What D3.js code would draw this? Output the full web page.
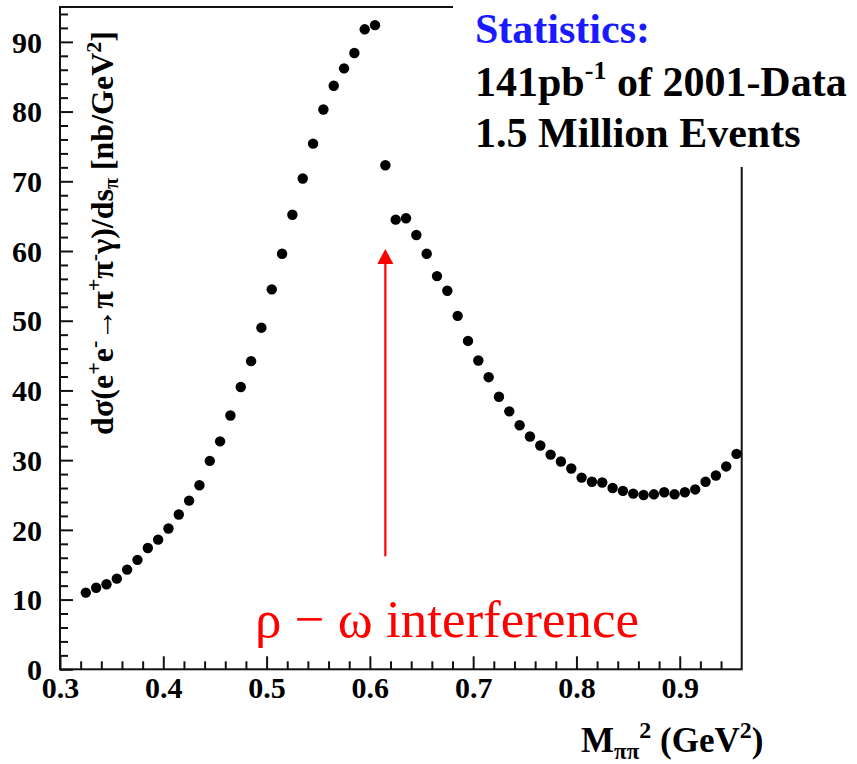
<!DOCTYPE html>
<html>
<head>
<meta charset="utf-8">
<script src="https://cdn.jsdelivr.net/npm/d3@7"></script>
<style>
  html, body { margin: 0; padding: 0; background: #fff; }
  svg { display: block; }
  svg text { font-family: "Liberation Serif", "Times New Roman", Tinos, "DejaVu Serif", serif; }
</style>
</head>
<body>
<svg id="chart" width="857" height="764"></svg>
<script>
// Bin centres of M_pipi^2 (GeV^2), 0.01 wide bins
const massSq = [
  0.325, 0.335, 0.345, 0.355, 0.365, 0.375, 0.385, 0.395, 0.405, 0.415,
  0.425, 0.435, 0.445, 0.455, 0.465, 0.475, 0.485, 0.495, 0.505, 0.515,
  0.525, 0.535, 0.545, 0.555, 0.565, 0.575, 0.585, 0.595, 0.605, 0.615,
  0.625, 0.635, 0.645, 0.655, 0.665, 0.675, 0.685, 0.695, 0.705, 0.715,
  0.725, 0.735, 0.745, 0.755, 0.765, 0.775, 0.785, 0.795, 0.805, 0.815,
  0.825, 0.835, 0.845, 0.855, 0.865, 0.875, 0.885, 0.895, 0.905, 0.915,
  0.925, 0.935, 0.945, 0.955
];
// dsigma/ds_pi in nb/GeV^2
const crossSection = [
  11.0, 11.7, 12.2, 13.0, 14.3, 15.7, 17.4, 18.6, 20.2, 22.2,
  24.2, 26.4, 29.9, 32.7, 36.4, 40.5, 44.2, 49.0, 54.5, 59.6,
  65.2, 70.4, 75.4, 80.3, 83.7, 86.2, 88.4, 91.8, 92.4, 72.3,
  64.5, 64.7, 62.3, 59.6, 56.4, 54.3, 50.7, 47.1, 44.3, 41.9,
  39.1, 37.0, 35.0, 33.4, 32.1, 30.8, 29.8, 28.8, 27.5, 26.9,
  26.8, 26.0, 25.6, 25.2, 25.0, 25.1, 25.4, 25.1, 25.4, 25.8,
  26.9, 27.8, 29.1, 30.9
];
const xMajorTicks = [0.3, 0.4, 0.5, 0.6, 0.7, 0.8, 0.9];
const xTickLabels = ["0.3", "0.4", "0.5", "0.6", "0.7", "0.8", "0.9"];
const yMajorTicks = [0, 10, 20, 30, 40, 50, 60, 70, 80, 90];
const yTickLabels = ["0", "10", "20", "30", "40", "50", "60", "70", "80", "90"];
const statsLines = ["Statistics:", "141pb", "1.5 Million Events"];
const annotationText = "\u03C1 \u2212 \u03C9 interference";
// arrow pointing at the interference dip: x position and y extent (data units)
const arrowX = 0.615;
const arrowFrom = 16.2;
const arrowTo = 60.3;

const svg = d3.select("#chart");
const W = 857, H = 764;
const plot = { left: 60, right: 741.7, top: 7, bottom: 669.3 };

const x = d3.scaleLinear().domain([0.3, 0.96]).range([plot.left, plot.right]);
const y = d3.scaleLinear().domain([0, 95]).range([plot.bottom, plot.top]);

svg.append("rect").attr("width", W).attr("height", H).attr("fill", "#fff");

// minor ticks
const xMinor = d3.range(0.32, 0.96, 0.02).filter(v => Math.abs(v * 10 - Math.round(v * 10)) > 1e-6);
const yMinor = d3.range(2, 95, 2).filter(v => v % 10 !== 0);

const axisStyle = g => {
  g.select(".domain").remove();
  g.attr("font-family", null);
  g.selectAll("line").attr("stroke", "#111").attr("stroke-width", 2);
};

svg.append("g")
  .attr("transform", `translate(0,${plot.bottom})`)
  .call(d3.axisBottom(x).tickValues(xMinor).tickSize(-8).tickFormat(""))
  .call(axisStyle);
svg.append("g")
  .attr("transform", `translate(0,${plot.bottom})`)
  .call(d3.axisBottom(x).tickValues(xMajorTicks).tickSize(-13).tickPadding(0)
        .tickFormat((d, i) => xTickLabels[i]))
  .call(axisStyle)
  .call(g => g.selectAll("text")
    .attr("y", 29).attr("dy", 0)
    .attr("font-weight", "bold").attr("font-size", 30).attr("fill", "#000"));

svg.append("g")
  .attr("transform", `translate(${plot.left},0)`)
  .call(d3.axisLeft(y).tickValues(yMinor).tickSize(-8).tickFormat(""))
  .call(axisStyle);
svg.append("g")
  .attr("transform", `translate(${plot.left},0)`)
  .call(d3.axisLeft(y).tickValues(yMajorTicks).tickSize(-13).tickPadding(0)
        .tickFormat((d, i) => yTickLabels[i]))
  .call(axisStyle)
  .call(g => g.selectAll("text")
    .attr("x", -18).attr("dy", "0.34em")
    .attr("font-weight", "bold").attr("font-size", 30).attr("fill", "#000"));

// frame
svg.append("rect")
  .attr("x", plot.left).attr("y", plot.top)
  .attr("width", plot.right - plot.left).attr("height", plot.bottom - plot.top)
  .attr("fill", "none").attr("stroke", "#111").attr("stroke-width", 2);

// data points
svg.append("g").selectAll("circle")
  .data(massSq.map((m, i) => [m, crossSection[i]]))
  .join("circle")
  .attr("cx", d => x(d[0]))
  .attr("cy", d => y(d[1]))
  .attr("r", 5.2)
  .attr("fill", "#000");

// statistics box
svg.append("rect")
  .attr("x", 453).attr("y", 0).attr("width", W - 453).attr("height", 167)
  .attr("fill", "#fff");

const stats = svg.append("g").attr("font-weight", "bold").attr("font-size", 42);
stats.append("text").attr("x", 475).attr("y", 43).attr("fill", "#1a1aff").text(statsLines[0]);
const line2 = stats.append("text").attr("x", 475).attr("y", 96).attr("fill", "#000");
line2.append("tspan").text(statsLines[1]);
line2.append("tspan").attr("font-size", 26).attr("dy", -17).text("-1");
line2.append("tspan").attr("dy", 17).text(" of 2001-Data");
stats.append("text").attr("x", 475).attr("y", 147).attr("fill", "#000").text(statsLines[2]);

// y-axis title
const yTitle = svg.append("text")
  .attr("transform", `translate(113,${233}) rotate(-90)`)
  .attr("text-anchor", "middle")
  .attr("font-weight", "bold").attr("font-size", 32).attr("fill", "#000");
const sup = (sel, t) => sel.append("tspan").attr("font-size", 22).attr("baseline-shift", "55%").text(t);
const sub = (sel, t) => sel.append("tspan").attr("font-size", 20).attr("baseline-shift", "-25%").text(t);
yTitle.append("tspan").text("d\u03C3(e");
sup(yTitle, "+");
yTitle.append("tspan").text("e");
sup(yTitle, "-");
yTitle.append("tspan").text("\u2192\u03C0");
sup(yTitle, "+");
yTitle.append("tspan").text("\u03C0");
sup(yTitle, "-");
yTitle.append("tspan").text("\u03B3)/ds");
sub(yTitle, "\u03C0");
yTitle.append("tspan").text(" [nb/GeV");
sup(yTitle, "2");
yTitle.append("tspan").text("]");

// x-axis title
const xTitle = svg.append("text")
  .attr("x", 581).attr("y", 752)
  .attr("font-weight", "bold").attr("font-size", 35).attr("fill", "#000");
xTitle.append("tspan").text("M");
xTitle.append("tspan").attr("font-size", 23).attr("baseline-shift", "-30%").text("\u03C0\u03C0");
xTitle.append("tspan").attr("font-size", 24).attr("baseline-shift", "60%").text("2");
xTitle.append("tspan").text(" (GeV");
xTitle.append("tspan").attr("font-size", 24).attr("baseline-shift", "60%").text("2");
xTitle.append("tspan").text(")");

// annotation arrow and label
const ax = x(arrowX);
svg.append("line")
  .attr("x1", ax).attr("x2", ax)
  .attr("y1", y(arrowFrom)).attr("y2", y(arrowTo) + 12)
  .attr("stroke", "#ff0000").attr("stroke-width", 2.2);
svg.append("path")
  .attr("d", `M${ax},${y(arrowTo)} L${ax - 8},${y(arrowTo) + 15} L${ax + 8},${y(arrowTo) + 15} Z`)
  .attr("fill", "#ff0000");
svg.append("text")
  .attr("x", 255).attr("y", 637)
  .attr("font-size", 53).attr("fill", "#ff0000")
  .text(annotationText);
</script>
</body>
</html>
